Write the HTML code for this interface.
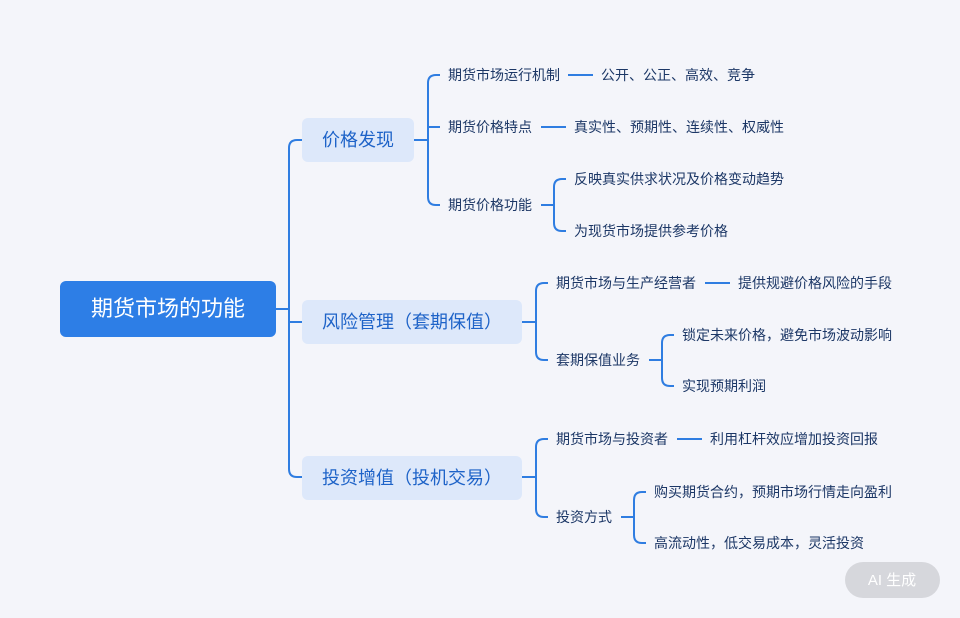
<!DOCTYPE html>
<html><head><meta charset="utf-8"><style>
html,body{margin:0;padding:0;background:#f4f5fa;}
svg{display:block;font-family:"Liberation Sans","Noto Sans CJK SC",sans-serif;}
.t{font-size:14px;fill:#1c3766;}
.b{font-size:18px;fill:#1e63c8;}
</style></head><body>
<svg width="960" height="618" viewBox="0 0 960 618">
<rect width="960" height="618" fill="#f4f5fa"/>
<g fill="none" stroke="#2f7de1" stroke-width="2">
<path d="M276 309 H289"/>
<path d="M302 140 H297 Q289 140 289 148 V469 Q289 477 297 477 H302"/>
<path d="M289 322 H302"/>
<path d="M414 140 H428"/>
<path d="M440 75 H436 Q428 75 428 83 V197 Q428 205 436 205 H440"/>
<path d="M428 127 H440"/>
<path d="M568 75 H593"/>
<path d="M541 127 H566"/>
<path d="M541 205 H554"/>
<path d="M566 179 H562 Q554 179 554 187 V223 Q554 231 562 231 H566"/>
<path d="M522 322 H536"/>
<path d="M548 283 H544 Q536 283 536 291 V352 Q536 360 544 360 H548"/>
<path d="M705 283 H730"/>
<path d="M649 360 H662"/>
<path d="M674 335 H670 Q662 335 662 343 V378 Q662 386 670 386 H674"/>
<path d="M522 477 H536"/>
<path d="M548 439 H544 Q536 439 536 447 V509 Q536 517 544 517 H548"/>
<path d="M677 439 H702"/>
<path d="M621 517 H634"/>
<path d="M646 492 H642 Q634 492 634 500 V535 Q634 543 642 543 H646"/>
</g>
<rect x="60" y="281" width="216" height="56" rx="6" fill="#2d7ee6"/>
<text x="168" y="316" font-size="22" fill="#fff" text-anchor="middle">期货市场的功能</text>
<rect x="302" y="118" width="112" height="44" rx="6" fill="#dde8fa"/>
<text x="358" y="146" class="b" text-anchor="middle">价格发现</text>
<rect x="302" y="300" width="220" height="44" rx="6" fill="#dde8fa"/>
<text x="412" y="328" class="b" text-anchor="middle">风险管理（套期保值）</text>
<rect x="302" y="456" width="220" height="44" rx="6" fill="#dde8fa"/>
<text x="412" y="484" class="b" text-anchor="middle">投资增值（投机交易）</text>
<g>
<text x="448" y="80" class="t">期货市场运行机制</text>
<text x="601" y="80" class="t">公开、公正、高效、竞争</text>
<text x="448" y="132" class="t">期货价格特点</text>
<text x="574" y="132" class="t">真实性、预期性、连续性、权威性</text>
<text x="448" y="210" class="t">期货价格功能</text>
<text x="574" y="184" class="t">反映真实供求状况及价格变动趋势</text>
<text x="574" y="236" class="t">为现货市场提供参考价格</text>
<text x="556" y="288" class="t">期货市场与生产经营者</text>
<text x="738" y="288" class="t">提供规避价格风险的手段</text>
<text x="556" y="365" class="t">套期保值业务</text>
<text x="682" y="340" class="t">锁定未来价格，避免市场波动影响</text>
<text x="682" y="391" class="t">实现预期利润</text>
<text x="556" y="444" class="t">期货市场与投资者</text>
<text x="710" y="444" class="t">利用杠杆效应增加投资回报</text>
<text x="556" y="522" class="t">投资方式</text>
<text x="654" y="497" class="t">购买期货合约，预期市场行情走向盈利</text>
<text x="654" y="548" class="t">高流动性，低交易成本，灵活投资</text>
</g>
<rect x="845" y="562" width="95" height="36" rx="18" fill="#d6d7dc"/>
<text x="892" y="585" font-size="15" fill="#fff" text-anchor="middle">AI 生成</text>
</svg>
</body></html>
